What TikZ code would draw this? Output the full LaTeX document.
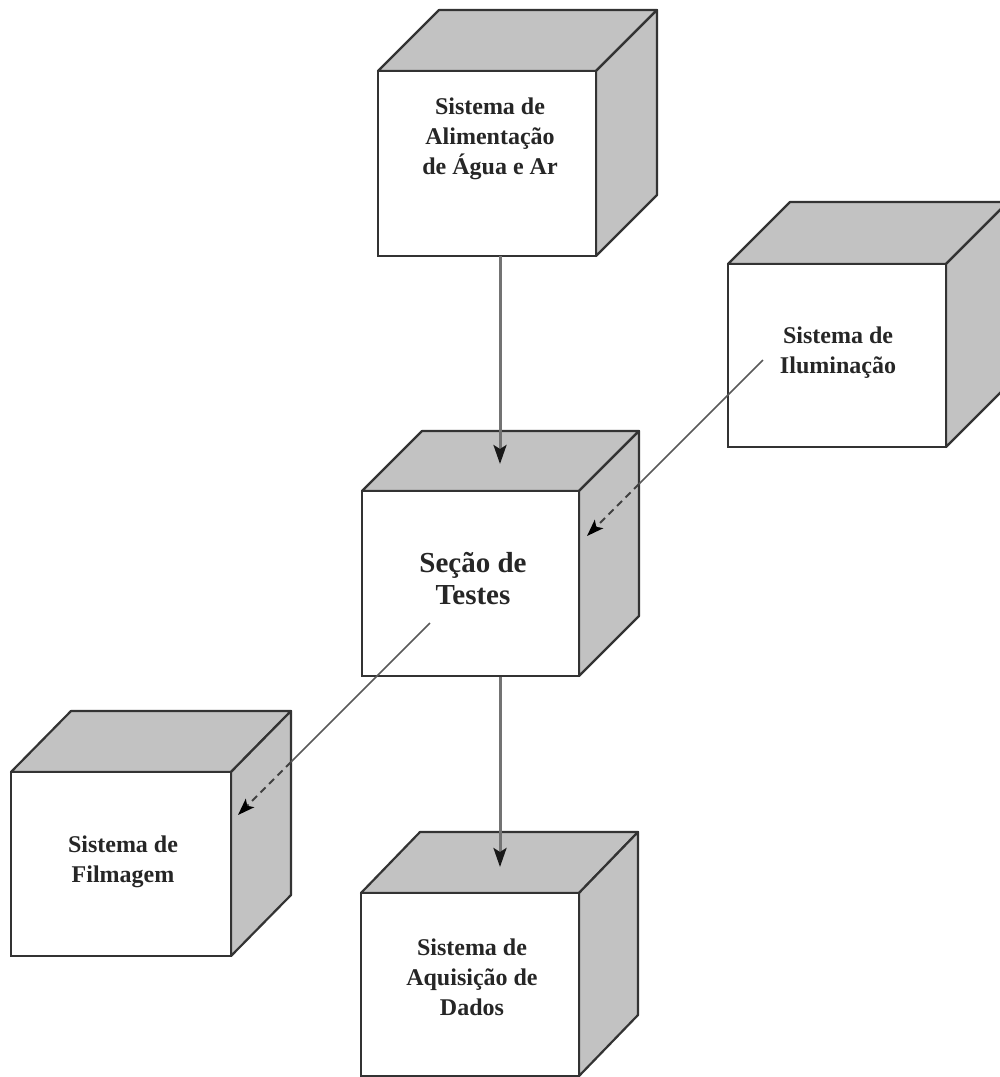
\documentclass[tikz,border=0pt]{standalone}
\usepackage{fontspec}
\setmainfont{Liberation Serif}
\usetikzlibrary{arrows.meta}
\tikzset{
  front/.style={draw=black!80,line width=2.2pt,fill=white,inner sep=0pt,outer sep=0pt},
  side/.style={draw=black!80,line width=2.2pt,fill=black!24,line join=round},
  lab/.style={align=center,font=\fontsize{24}{30}\selectfont\bfseries,text=black!85},
  labbig/.style={align=center,font=\fontsize{29}{32}\selectfont\bfseries,text=black!85},
  solidarrow/.style={draw=black!55,line width=3pt,-{Stealth[length=19pt,width=13pt,inset=4pt,black!90]}},
  thinline/.style={draw=black!65,line width=1.6pt},
  dashline/.style={draw=black!75,line width=1.8pt,dash pattern=on 7pt off 5pt,-{Stealth[length=17pt,width=12pt,inset=4pt,black]}}
}
\newcommand{\cube}[7]{% name, x, y(top-left of front), w, h, dx, dy
  \path[side] (#2,#3) -- ++(#6,-#7) -- ++(#4,0) -- ++(-#6,#7) -- cycle;
  \path[side] (#2+#4,#3) -- ++(#6,-#7) -- ++(0,#5) -- ++(-#6,#7) -- cycle;
  \node[front,minimum width=#4 pt,minimum height=#5 pt,anchor=north west] (#1) at (#2,#3) {};
}
\begin{document}
\begin{tikzpicture}[x=1pt,y=-1pt]
\useasboundingbox (0,0) rectangle (1000,1077);
\clip (0,0) rectangle (1000,1077);
\fill[white] (0,0) rectangle (1000,1077);
\cube{agua}{378}{71}{218}{185}{61}{61}
\cube{luz}{728}{264}{218}{183}{62}{62}
\cube{secao}{362}{491}{217}{185}{60}{60}
\cube{film}{11}{772}{220}{184}{60}{61}
\cube{dados}{361}{893}{218}{183}{59}{61}
\node[lab] (tagua) at (490,139) {Sistema de\\Alimentação\\de Água e Ar};
\node[lab] (tluz) at (838,353) {Sistema de\\Iluminação};
\node[labbig] (tsecao) at (473,579) {Seção de\\Testes};
\node[lab] (tfilm) at (123,862) {Sistema de\\Filmagem};
\node[lab] (tdados) at (472,977) {Sistema de\\Aquisição de\\Dados};
\coordinate (a1) at (500,256);
\coordinate (a2) at (500,464);
\coordinate (b1) at (500,677);
\coordinate (b2) at (500,867);
\coordinate (c1) at (763,360);
\coordinate (c2) at (639,484);
\coordinate (c3) at (587,536);
\coordinate (d1) at (430,623);
\coordinate (d2) at (291,762);
\coordinate (d3) at (238,815);
\draw[solidarrow] (a1) -- (a2);
\draw[solidarrow] (b1) -- (b2);
\draw[thinline] (c1) -- (c2);
\draw[dashline] (c2) -- (c3);
\draw[thinline] (d1) -- (d2);
\draw[dashline] (d2) -- (d3);
\end{tikzpicture}
\end{document}
